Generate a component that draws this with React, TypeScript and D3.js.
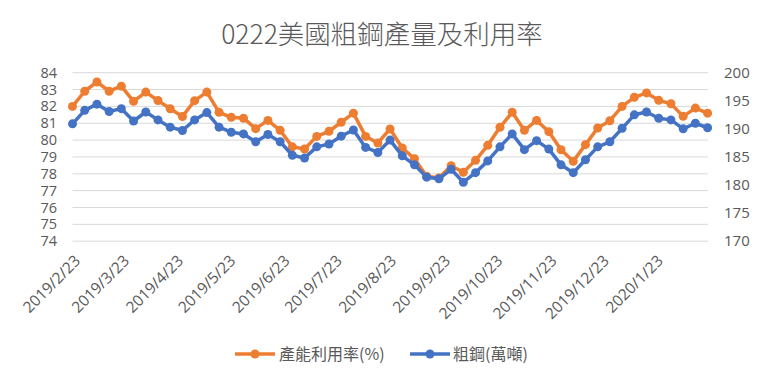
import React from "react";
import * as d3 from "d3";

const TITLE = "0222美國粗鋼產量及利用率";
const START_DATE = "2019/2/23";
const UTIL_NAME = "產能利用率(%)";
const STEEL_NAME = "粗鋼(萬噸)";

const utilization: number[] = [
  82.0, 82.9, 83.45, 82.9, 83.2, 82.3, 82.85, 82.35, 81.86, 81.4,
  82.34, 82.85, 81.65, 81.35, 81.3, 80.68, 81.17, 80.58, 79.6, 79.47,
  80.22, 80.52, 81.06, 81.6, 80.22, 79.83, 80.66, 79.53, 78.9, 77.85,
  77.75, 78.48, 78.09, 78.8, 79.69, 80.76, 81.65, 80.58, 81.17, 80.5,
  79.43, 78.74, 79.73, 80.72, 81.15, 82.0, 82.54, 82.8, 82.36, 82.16,
  81.41, 81.9, 81.6,
];

const steel: number[] = [
  190.9, 193.3, 194.4, 193.1, 193.6, 191.4, 193.0, 191.6, 190.3, 189.7,
  191.6, 192.9, 190.3, 189.4, 189.1, 187.7, 189.0, 187.7, 185.3, 184.8,
  186.8, 187.3, 188.7, 189.8, 186.7, 185.8, 188.0, 185.2, 183.6, 181.4,
  181.1, 182.8, 180.5, 182.2, 184.3, 186.8, 189.1, 186.3, 187.9, 186.4,
  183.6, 182.2, 184.5, 186.8, 187.7, 190.1, 192.5, 193.0, 191.9, 191.6,
  190.0, 191.0, 190.2,
];

const monthTicks: string[] = [
  "2019/2/23", "2019/3/23", "2019/4/23", "2019/5/23", "2019/6/23", "2019/7/23",
  "2019/8/23", "2019/9/23", "2019/10/23", "2019/11/23", "2019/12/23", "2020/1/23",
];

const leftTicks: number[] = [74, 75, 76, 77, 78, 79, 80, 81, 82, 83, 84];
const rightTicks: number[] = [170, 175, 180, 185, 190, 195, 200];

const W = 764;
const H = 383;
const ORANGE = "#ED7D31";
const BLUE = "#4472C4";
const TEXT = "#595959";
const GRID = "#D9D9D9";
const FONT = "'Open Sans', 'Noto Sans CJK TC', sans-serif";
const CJK = "'Noto Sans CJK TC', sans-serif";

export default function App() {
  const parse = d3.timeParse("%Y/%-m/%-d");
  const start = parse(START_DATE) as Date;
  const dates = utilization.map((_, i) => d3.timeDay.offset(start, i * 7));

  const x = d3
    .scaleTime()
    .domain([dates[0], dates[dates.length - 1]])
    .range([72.5, 707.6]);
  const yL = d3.scaleLinear().domain([74, 84]).range([241.2, 72.7]);
  const yR = d3.scaleLinear().domain([170, 200]).range([241.2, 72.7]);

  const lineL = d3
    .line<number>()
    .x((_, i) => x(dates[i]))
    .y((d) => yL(d));
  const lineR = d3
    .line<number>()
    .x((_, i) => x(dates[i]))
    .y((d) => yR(d));

  return (
    <svg
      width={W}
      height={H}
      style={{ position: "absolute", left: 0, top: 0, background: "#fff" }}
    >
      <rect x={0} y={0} width={W} height={H} fill="#fff" />
      <text
        x={382}
        y={44}
        textAnchor="middle"
        fontFamily={CJK}
        fontSize={26.5}
        fontWeight={300}
        fill={TEXT}
      >
        {TITLE}
      </text>

      {leftTicks.map((t) => (
        <line
          key={"g" + t}
          x1={72.5}
          x2={708}
          y1={yL(t)}
          y2={yL(t)}
          stroke={GRID}
          strokeWidth={1}
        />
      ))}

      {leftTicks.map((t) => (
        <text
          key={"l" + t}
          x={57}
          y={yL(t)}
          dy="0.35em"
          textAnchor="end"
          fontFamily={FONT}
          fontSize={14.5}
          fill={TEXT}
        >
          {t}
        </text>
      ))}

      {rightTicks.map((t) => (
        <text
          key={"r" + t}
          x={724}
          y={yR(t)}
          dy="0.35em"
          textAnchor="start"
          fontFamily={FONT}
          fontSize={15}
          fill={TEXT}
        >
          {t}
        </text>
      ))}

      {monthTicks.map((m) => {
        const d = parse(m) as Date;
        const px = x(d);
        return (
          <text
            key={m}
            transform={`translate(${px + 5},${258}) rotate(-45)`}
            textAnchor="end"
            dy="0.35em"
            fontFamily={FONT}
            fontSize={15.5}
            fill={TEXT}
          >
            {m}
          </text>
        );
      })}

      <path
        d={lineL(utilization) || ""}
        fill="none"
        stroke={ORANGE}
        strokeWidth={3.5}
        strokeLinejoin="round"
      />
      {utilization.map((v, i) => (
        <circle key={"o" + i} cx={x(dates[i])} cy={yL(v)} r={4.5} fill={ORANGE} />
      ))}

      <path
        d={lineR(steel) || ""}
        fill="none"
        stroke={BLUE}
        strokeWidth={3.5}
        strokeLinejoin="round"
      />
      {steel.map((v, i) => (
        <circle key={"b" + i} cx={x(dates[i])} cy={yR(v)} r={4.5} fill={BLUE} />
      ))}

      <g>
        <line x1={235} x2={275} y1={354} y2={354} stroke={ORANGE} strokeWidth={3.5} />
        <circle cx={255} cy={354} r={4.5} fill={ORANGE} />
        <text x={279} y={354} dy="0.36em" fontFamily={CJK} fontSize={16} fill={TEXT}>
          {UTIL_NAME}
        </text>
        <line x1={410} x2={450} y1={354} y2={354} stroke={BLUE} strokeWidth={3.5} />
        <circle cx={430} cy={354} r={4.5} fill={BLUE} />
        <text x={453} y={354} dy="0.36em" fontFamily={CJK} fontSize={16} fill={TEXT}>
          {STEEL_NAME}
        </text>
      </g>
    </svg>
  );
}
